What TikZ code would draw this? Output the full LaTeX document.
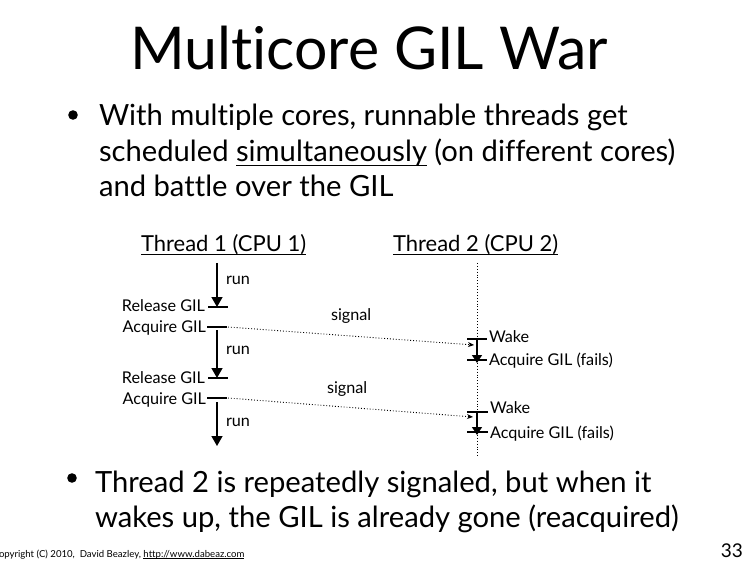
\documentclass[tikz,border=0pt]{standalone}
\usepackage{fontspec}
\setmainfont{Lato}[Ligatures={NoCommon}]
\usetikzlibrary{arrows.meta}
% underline drawn a little below the baseline, ignoring descenders
\newsavebox\ulinebox
\newcommand\lineunder[2][0.05em]{\sbox\ulinebox{#2}%
  \rlap{\rule[-0.14em]{\wd\ulinebox}{#1}}\usebox\ulinebox}
\begin{document}
\begin{tikzpicture}[x=1pt,y=-1pt,
  every node/.style={inner sep=0pt, outer sep=0pt},
  title/.style={font=\fontsize{59}{60}\selectfont, anchor=base},
  body/.style={font=\fontsize{29.2}{34}\selectfont, anchor=base west},
  head/.style={font=\fontsize{22}{24}\selectfont, anchor=base west},
  lbl/.style={font=\fontsize{16.2}{18}\selectfont},
  bar/.style={line width=1.6pt},
  runarrow/.style={line width=1.4pt, -{Triangle[length=10pt,width=11pt]}},
  wakearrow/.style={line width=1.4pt, -{Triangle[length=8pt,width=10pt]}},
  sig/.style={dotted, line width=0.9pt, -{Stealth[length=6pt,width=5pt]}},
  life/.style={dotted, line width=0.9pt}]
\useasboundingbox (0,0) rectangle (750,564);

% title
\node[title] (title) at (369,70) {Multicore GIL War};

% first bullet
\coordinate (b1) at (73,115);
\fill (b1) circle (4.8pt);
\node[body] (l1) at (99,126) {With multiple cores, runnable threads get};
\node[body] (l2) at (99,162) {scheduled \lineunder{simultaneously} (on different cores)};
\node[body] (l3) at (99,197) {and battle over the GIL};

% column headings
\node[head] (h1) at (141,252) {\lineunder{Thread 1 (CPU 1)}};
\node[head] (h2) at (393,252) {\lineunder{Thread 2 (CPU 2)}};

% thread 1 timeline
\coordinate (t1a) at (217,263);
\coordinate (r1) at (217,307);
\coordinate (a1) at (217,327);
\coordinate (t1b) at (217,330);
\coordinate (r2) at (217,378);
\coordinate (a2) at (217,398);
\coordinate (t1c) at (217,402);
\coordinate (t1d) at (217,446);

\draw[runarrow] (t1a) -- (r1);
\draw[runarrow] (t1b) -- (r2);
\draw[runarrow] (t1c) -- (t1d);

\draw[bar] ([xshift=-9pt]r1) -- ([xshift=11pt]r1);
\draw[bar] ([xshift=-10pt]a1) -- ([xshift=10pt]a1);
\draw[bar] ([xshift=-9pt]r2) -- ([xshift=11pt]r2);
\draw[bar] ([xshift=-10pt]a2) -- ([xshift=10pt]a2);

\node[lbl, anchor=base west] (run1) at (226,284) {run};
\node[lbl, anchor=base west] (run2) at (226,354) {run};
\node[lbl, anchor=base west] (run3) at (226,426) {run};

\node[lbl, anchor=base east] (rel1) at (205,312) {Release GIL};
\node[lbl, anchor=base east] (acq1) at (206,332) {Acquire GIL};
\node[lbl, anchor=base east] (rel2) at (205,383) {Release GIL};
\node[lbl, anchor=base east] (acq2) at (206,404) {Acquire GIL};

% thread 2 timeline
\coordinate (t2a) at (477,263);
\coordinate (w1) at (477,339);
\coordinate (f1) at (477,360);
\coordinate (w2) at (477,412);
\coordinate (f2) at (477,432);
\coordinate (t2e) at (477,456);

\draw[life] (t2a) -- (w1);
\draw[life] (f1) -- (w2);
\draw[life] (f2) -- (t2e);

\draw[bar] ([xshift=-10pt]w1) -- ([xshift=10pt]w1);
\draw[bar] ([xshift=-10pt]f1) -- ([xshift=10pt]f1);
\draw[bar] ([xshift=-10pt]w2) -- ([xshift=11pt]w2);
\draw[bar] ([xshift=-10pt]f2) -- ([xshift=11pt]f2);
\draw[wakearrow] (w1) -- ([yshift=-3pt]f1);
\draw[wakearrow] (w2) -- ([yshift=-3pt]f2);

\node[lbl, anchor=base west] (wake1) at (489,342) {Wake};
\node[lbl, anchor=base west] (fail1) at (489,365) {Acquire GIL (fails)};
\node[lbl, anchor=base west] (wake2) at (490,413) {Wake};
\node[lbl, anchor=base west] (fail2) at (490,438) {Acquire GIL (fails)};

% signals
\draw[sig] ([xshift=11pt]a1) -- ([xshift=-3pt,yshift=-6pt]w1);
\draw[sig] ([xshift=11pt]a2) -- ([xshift=-4pt,yshift=-5pt]w2);
\node[lbl, anchor=base west] (s1) at (331,320) {signal};
\node[lbl, anchor=base west] (s2) at (327,393) {signal};

% second bullet
\coordinate (b2) at (72,478);
\fill (b2) circle (4.8pt);
\node[body] (m1) at (95,492) {Thread 2 is repeatedly signaled, but when it};
\node[body] (m2) at (95,527) {wakes up, the GIL is already gone (reacquired)};

% footer
\node[font=\fontsize{9.6}{10}\selectfont, anchor=base west] (copy) at (-1,557)
  {opyright (C) 2010,\ \ David Beazley, \lineunder{http://www.dabeaz.com}};
\node[font=\fontsize{19}{20}\selectfont, anchor=base east] (page) at (743,557) {33};
\end{tikzpicture}
\end{document}
